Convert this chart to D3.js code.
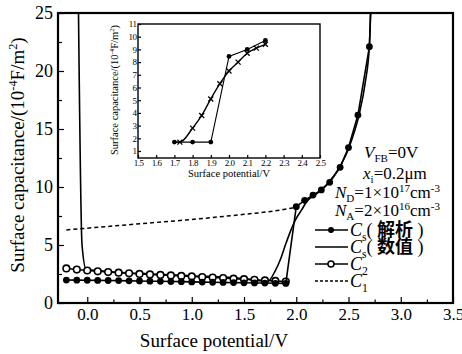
<!DOCTYPE html>
<html>
<head>
<meta charset="utf-8">
<script src="https://cdn.jsdelivr.net/npm/d3@7/dist/d3.min.js"></script>
<style>
body { margin: 0; background: #fff; }
svg text { font-family: "Liberation Serif", "DejaVu Serif", serif; fill: #000; }
.axis path { display: none; }
.axis line { stroke: #000; stroke-width: 1.5; }
</style>
</head>
<body>
<div id="chart"></div>
<script>

//----- Daten Hauptdiagramm ------------------------------------------------------------//

var lowX = [-0.2, -0.1, 0.0, 0.1, 0.2, 0.3, 0.4, 0.5, 0.6, 0.7, 0.8, 0.9, 1.0, 1.1, 1.2, 1.3, 1.4, 1.5, 1.6, 1.7, 1.8, 1.9];
var c2Low = [2.98, 2.88, 2.8, 2.73, 2.67, 2.61, 2.56, 2.51, 2.46, 2.42, 2.38, 2.33, 2.29, 2.24, 2.2, 2.15, 2.1, 2.05, 2.0, 1.95, 1.9, 1.85];
var csAnaLow = [1.98, 1.97, 1.96, 1.95, 1.94, 1.93, 1.91, 1.9, 1.88, 1.87, 1.85, 1.84, 1.82, 1.8, 1.79, 1.77, 1.76, 1.74, 1.73, 1.72, 1.7, 1.69];

var csAnaHighX = [2.0, 2.08, 2.16, 2.24, 2.32, 2.42, 2.5, 2.59, 2.7, 2.715];
var csAnaHighY = [8.3, 8.85, 9.3, 9.75, 10.4, 11.7, 13.4, 16.2, 22.1, 26];

var csNumX = [-0.085, -0.05, -0.01, 0.5, 1.0, 1.5, 1.7, 1.73, 1.8, 1.85, 1.9, 1.95, 2.0, 2.05, 2.1, 2.2, 2.3, 2.4, 2.5, 2.6, 2.66, 2.7, 2.715];
var csNumY = [26, 5.0, 2.9, 2.55, 2.35, 2.1, 1.9, 1.9, 2.8, 3.8, 5.1, 6.3, 7.3, 8.0, 8.75, 9.45, 10.3, 11.5, 13.3, 16.2, 19.0, 22.2, 26];

var c1X = [-0.2, 0.2, 0.6, 1.0, 1.4, 1.8, 1.97];
var c1Y = [6.3, 6.6, 6.9, 7.2, 7.55, 7.95, 8.2];

var xTicks = [0.0, 0.5, 1.0, 1.5, 2.0, 2.5, 3.0, 3.5];
var xMinor = [0.25, 0.75, 1.25, 1.75, 2.25, 2.75, 3.25];
var yTicks = [0, 5, 10, 15, 20, 25];
var yMinor = [2.5, 7.5, 12.5, 17.5, 22.5];

//----- Daten Einschub ------------------------------------------------------------------//

var inAnaX = [1.7, 1.8, 1.9, 2.0, 2.1, 2.2];
var inAnaY = [1.7, 1.7, 1.7, 8.45, 9.0, 9.7];
var inNumX = [1.7, 1.73, 1.8, 1.85, 1.9, 1.95, 2.0, 2.05, 2.1, 2.15, 2.2];
var inNumY = [1.7, 1.7, 2.8, 3.8, 5.1, 6.3, 7.3, 8.0, 8.7, 9.1, 9.4];
var inXTicks = [1.5, 1.6, 1.7, 1.8, 1.9, 2.0, 2.1, 2.2, 2.3, 2.4, 2.5];
var inYTicks = [1, 2, 3, 4, 5, 6, 7, 8, 9, 10, 11];


// --- Text mit Index / Exponent ------------------------------------------------------- //

function richText(sel, parts, size) {
    var shift = 0;
    parts.forEach(function (p) {
        var ts = sel.append('tspan').text(p[0]);
        var target = 0;
        if (p[1] == 'sub') { target = size * 0.25; }
        if (p[1] == 'sup') { target = -size * 0.38; }
        ts.attr('dy', target - shift);
        shift = target;
        if (p[1] == 'sub' || p[1] == 'sup') { ts.style('font-size', (size * 0.65) + 'px'); }
        if (p[1] == 'i') { ts.style('font-style', 'italic'); }
        if (p[1] == 'cjk') { ts.style('font-family', '"Noto Sans CJK SC"').style('font-weight', 'bold'); }
    });
}

function zip(a, b) {
    return a.map(function (v, i) { return [v, b[i]]; });
}


var svg = d3.select('#chart').append('svg')
    .attr('width', 462)
    .attr('height', 354);

// --- Hauptdiagramm ---------------------------------------------------------------------- //

var x = d3.scaleLinear().domain([-0.28, 3.5]).range([58, 453]);
var y = d3.scaleLinear().domain([0, 25]).range([303, 13]);

svg.append('clipPath').attr('id', 'clipMain')
    .append('rect').attr('x', 58).attr('y', 13).attr('width', 395).attr('height', 290);

var plot = svg.append('g').attr('clip-path', 'url(#clipMain)');

var line = d3.line().x(function (d) { return x(d[0]); }).y(function (d) { return y(d[1]); });
var smooth = d3.line().curve(d3.curveMonotoneX).x(function (d) { return x(d[0]); }).y(function (d) { return y(d[1]); });

// C1 gestrichelt
plot.append('path')
    .attr('d', smooth(zip(c1X, c1Y)))
    .attr('fill', 'none').attr('stroke', '#000').attr('stroke-width', 1.5)
    .attr('stroke-dasharray', '4,3');

// Cs numerisch
plot.append('path')
    .attr('d', smooth(zip(csNumX, csNumY)))
    .attr('fill', 'none').attr('stroke', '#000').attr('stroke-width', 1.6);

// C2 mit offenen Kreisen
var c2Data = zip(lowX, c2Low);
plot.append('path')
    .attr('d', line(c2Data))
    .attr('fill', 'none').attr('stroke', '#000').attr('stroke-width', 1.5);
plot.selectAll('.c2dot').data(c2Data).enter().append('circle')
    .attr('class', 'c2dot')
    .attr('cx', function (d) { return x(d[0]); })
    .attr('cy', function (d) { return y(d[1]); })
    .attr('r', 3.3)
    .attr('fill', '#fff').attr('stroke', '#000').attr('stroke-width', 1.6);

// Cs analytisch
var anaData = zip(lowX, csAnaLow).concat(zip(csAnaHighX, csAnaHighY));
plot.append('path')
    .attr('d', line(anaData))
    .attr('fill', 'none').attr('stroke', '#000').attr('stroke-width', 1.6);
plot.selectAll('.anadot').data(anaData).enter().append('circle')
    .attr('class', 'anadot')
    .attr('cx', function (d) { return x(d[0]); })
    .attr('cy', function (d) { return y(d[1]); })
    .attr('r', 3.4)
    .attr('fill', '#000');

// Achsen
svg.append('g').attr('class', 'axis')
    .attr('transform', 'translate(0,303)')
    .call(d3.axisBottom(x).tickValues(xTicks).tickSize(-6).tickPadding(5).tickFormat(d3.format('.1f')))
    .selectAll('text').style('font-size', '17px').style('font-family', '"Liberation Serif", serif');

svg.append('g').attr('class', 'axis')
    .attr('transform', 'translate(0,303)')
    .call(d3.axisBottom(x).tickValues(xMinor).tickSize(-3.5).tickFormat(''));

svg.append('g').attr('class', 'axis')
    .attr('transform', 'translate(58,0)')
    .call(d3.axisLeft(y).tickValues(yTicks).tickSize(-6).tickPadding(5))
    .selectAll('text').style('font-size', '18px').style('font-family', '"Liberation Serif", serif');

svg.append('g').attr('class', 'axis')
    .attr('transform', 'translate(58,0)')
    .call(d3.axisLeft(y).tickValues(yMinor).tickSize(-4).tickFormat(''));

svg.append('rect')
    .attr('x', 58).attr('y', 13).attr('width', 395).attr('height', 290)
    .attr('fill', 'none').attr('stroke', '#000').attr('stroke-width', 2.2);

// Achsentitel
svg.append('text')
    .attr('x', 214).attr('y', 347)
    .attr('text-anchor', 'middle')
    .style('font-size', '19px')
    .text('Surface potential/V');

var yTitle = svg.append('text')
    .attr('transform', 'translate(24,155) rotate(-90)')
    .attr('text-anchor', 'middle')
    .style('font-size', '19px');
richText(yTitle, [['Surface capacitance/(10', ''], ['-4', 'sup'], ['F/m', ''], ['2', 'sup'], [')', '']], 19);


// --- Parameter und Legende ---------------------------------------------------------------- //

var info = [
    { x: 364, y: 158, parts: [['V', 'i'], ['FB', 'sub'], ['=0V', '']] },
    { x: 363, y: 179, parts: [['x', 'i'], ['i', 'sub'], ['=0.2\u03bcm', '']] },
    { x: 335, y: 198, parts: [['N', 'i'], ['D', 'sub'], ['=1\u00d710', ''], ['17', 'sup'], ['cm', ''], ['-3', 'sup']] },
    { x: 335, y: 216, parts: [['N', 'i'], ['A', 'sub'], ['=2\u00d710', ''], ['16', 'sup'], ['cm', ''], ['-3', 'sup']] }
];

info.forEach(function (d) {
    var t = svg.append('text').attr('x', d.x).attr('y', d.y).style('font-size', '17px');
    richText(t, d.parts, 17);
});

var legend = [
    { y: 230, dot: 'fill', dash: null, parts: [['C', 'i'], ['s', 'sub'], ['( ', ''], ['\u89e3\u6790', 'cjk'], [' )', '']] },
    { y: 247, dot: null, dash: null, parts: [['C', 'i'], ['s', 'sub'], ['( ', ''], ['\u6570\u503c', 'cjk'], [' )', '']] },
    { y: 264, dot: 'open', dash: null, parts: [['C', 'i'], ['2', 'sub']] },
    { y: 281, dot: null, dash: '3,2', parts: [['C', 'i'], ['1', 'sub']] }
];

legend.forEach(function (d) {
    svg.append('line')
        .attr('x1', 315).attr('x2', 348).attr('y1', d.y).attr('y2', d.y)
        .attr('stroke', '#000').attr('stroke-width', d.dash ? 1.3 : 1.6)
        .attr('stroke-dasharray', d.dash);
    if (d.dot == 'fill') {
        svg.append('circle').attr('cx', 331).attr('cy', d.y).attr('r', 3).attr('fill', '#000');
    }
    if (d.dot == 'open') {
        svg.append('circle').attr('cx', 331).attr('cy', d.y).attr('r', 3)
            .attr('fill', '#fff').attr('stroke', '#000').attr('stroke-width', 1.5);
    }
    var t = svg.append('text').attr('x', 350).attr('y', d.y + 6).style('font-size', '18px');
    richText(t, d.parts, 18);
});


// --- Einschub -------------------------------------------------------------------------------- //

var ix = d3.scaleLinear().domain([1.5, 2.5]).range([138, 320]);
var iy = d3.scaleLinear().domain([0.45, 11]).range([158, 24]);

svg.append('rect')
    .attr('x', 138).attr('y', 24).attr('width', 182).attr('height', 134)
    .attr('fill', '#fff');

var iline = d3.line().x(function (d) { return ix(d[0]); }).y(function (d) { return iy(d[1]); });
var ismooth = d3.line().curve(d3.curveMonotoneX).x(function (d) { return ix(d[0]); }).y(function (d) { return iy(d[1]); });

var inNum = zip(inNumX, inNumY);
svg.append('path')
    .attr('d', ismooth(inNum))
    .attr('fill', 'none').attr('stroke', '#000').attr('stroke-width', 1.4);
svg.selectAll('.inx').data(inNum.slice(1)).enter().append('path')
    .attr('class', 'inx')
    .attr('transform', function (d) { return 'translate(' + ix(d[0]) + ',' + iy(d[1]) + ')'; })
    .attr('d', d3.symbol().type(d3.symbolTimes).size(18))
    .attr('fill', 'none').attr('stroke', '#000').attr('stroke-width', 1.3);

var inAna = zip(inAnaX, inAnaY);
svg.append('path')
    .attr('d', iline(inAna))
    .attr('fill', 'none').attr('stroke', '#000').attr('stroke-width', 1.1);
svg.selectAll('.indot').data(inAna).enter().append('circle')
    .attr('class', 'indot')
    .attr('cx', function (d) { return ix(d[0]); })
    .attr('cy', function (d) { return iy(d[1]); })
    .attr('r', 2.4)
    .attr('fill', '#000');

svg.append('g').attr('class', 'axis')
    .attr('transform', 'translate(0,158)')
    .call(d3.axisBottom(ix).tickValues(inXTicks).tickSize(-3).tickPadding(2).tickFormat(d3.format('.1f')))
    .selectAll('text').style('font-size', '9px').style('letter-spacing', '-0.5px').style('font-family', '"Liberation Serif", serif');

svg.append('g').attr('class', 'axis')
    .attr('transform', 'translate(138,0)')
    .call(d3.axisLeft(iy).tickValues(inYTicks).tickSize(-3).tickPadding(1.5))
    .selectAll('text').style('font-size', '9px').style('letter-spacing', '-0.5px').style('font-family', '"Liberation Serif", serif');

svg.selectAll('.axis line').style('stroke-width', 1.2);

svg.append('rect')
    .attr('x', 138).attr('y', 24).attr('width', 182).attr('height', 134)
    .attr('fill', 'none').attr('stroke', '#000').attr('stroke-width', 1.4);

svg.append('text')
    .attr('x', 229).attr('y', 177)
    .attr('text-anchor', 'middle')
    .style('font-size', '10.5px')
    .text('Surface potential/V');

var iyTitle = svg.append('text')
    .attr('transform', 'translate(118,90) rotate(-90)')
    .attr('text-anchor', 'middle')
    .style('font-size', '10.5px');
richText(iyTitle, [['Surface capacitance/(10', ''], ['-4', 'sup'], ['F/m', ''], ['2', 'sup'], [')', '']], 10.5);

</script>
</body>
</html>
